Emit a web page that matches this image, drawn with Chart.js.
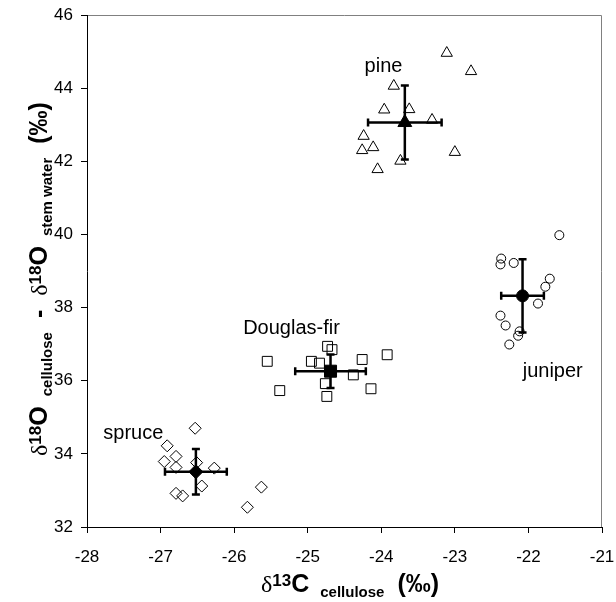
<!DOCTYPE html>
<html>
<head>
<meta charset="utf-8">
<script src="https://cdn.jsdelivr.net/npm/chart.js@4.4.1/dist/chart.umd.min.js"></script>
<style>
  body { margin: 0; background: #fff; }
  #wrap { width: 616px; height: 602px; }
</style>
</head>
<body>
<div id="wrap"><canvas id="chart" width="616" height="602"></canvas></div>
<script>
// individual trees, d13C (x) and d18O enrichment (y)
const pineX = [-23.11, -22.78, -23.83, -23.96, -23.62, -23.31, -24.24, -24.26, -24.11, -24.05, -23.74, -23.00];
const pineY = [44.96, 44.46, 44.06, 43.41, 43.42, 43.13, 42.69, 42.30, 42.38, 41.78, 42.01, 42.25];
const juniperX = [-21.58, -22.37, -22.38, -22.20, -21.71, -21.77, -21.87, -22.38, -22.31, -22.12, -22.14, -22.26];
const juniperY = [39.98, 39.34, 39.18, 39.22, 38.79, 38.57, 38.11, 37.78, 37.51, 37.35, 37.23, 36.99];
const firX = [-25.55, -25.38, -24.95, -24.84, -24.73, -24.67, -24.26, -23.92, -24.38, -24.76, -24.74, -24.14];
const firY = [36.53, 35.73, 36.53, 36.48, 36.94, 36.85, 36.58, 36.71, 36.16, 35.92, 35.57, 35.78];
const spruceX = [-26.53, -26.91, -26.79, -26.95, -26.79, -26.51, -26.27, -26.44, -26.79, -26.70, -25.63, -25.82];
const spruceY = [34.70, 34.22, 33.93, 33.79, 33.63, 33.76, 33.61, 33.12, 32.92, 32.85, 33.09, 32.54];

// species means and error bars (pine, juniper, Douglas-fir, spruce)
const species = ['pine', 'juniper', 'Douglas-fir', 'spruce'];
const meanX = [-23.68, -22.08, -24.69, -26.52];
const meanY = [43.06, 38.32, 36.26, 33.51];
const errX = [0.50, 0.29, 0.48, 0.42];
const errY = [1.01, 1.00, 0.46, 0.62];

// where the species names sit, in data units
const labelX = [-23.97, -21.67, -25.22, -27.37];
const labelY = [44.59, 36.25, 37.43, 34.56];

const xTicks = [-28, -27, -26, -25, -24, -23, -22, -21];
const yTicks = [32, 34, 36, 38, 40, 42, 44, 46];

const toPoints = (xs, ys) => xs.map((x, i) => ({ x: x, y: ys[i] }));

const SANS = "'Liberation Sans', Arial, sans-serif";
const SERIF = "'Liberation Serif', 'DejaVu Serif', serif";

// draws a row of text pieces, each with its own font and vertical shift
function drawRuns(ctx, runs) {
  const widthOf = r => {
    if (r.gap) return r.gap;
    ctx.font = r.font;
    return ctx.measureText(r.text).width;
  };
  let x = -runs.reduce((s, r) => s + widthOf(r), 0) / 2;
  runs.forEach(r => {
    if (!r.gap) {
      ctx.font = r.font;
      ctx.fillText(r.text, x, r.dy);
    }
    x += widthOf(r);
  });
}

const BIG = 'bold 25px ' + SANS;
const SUP = 'bold 17px ' + SANS;
const SUB = 'bold 15px ' + SANS;
const DELTA = '24px ' + SERIF;

const xTitle = [
  { text: 'δ', font: DELTA, dy: 0 },
  { text: '13', font: SUP, dy: -6 },
  { text: 'C', font: BIG, dy: 0 },
  { gap: 11 },
  { text: 'cellulose', font: SUB, dy: 5 },
  { gap: 13 },
  { text: '(‰)', font: BIG, dy: 0 }
];
const yTitle = [
  { text: 'δ', font: DELTA, dy: 0 },
  { text: '18', font: SUP, dy: -6 },
  { text: 'O', font: BIG, dy: 0 },
  { gap: 10 },
  { text: 'cellulose', font: SUB, dy: 5 },
  { gap: 14 },
  { text: '-', font: BIG, dy: 0 },
  { gap: 14 },
  { text: 'δ', font: DELTA, dy: 0 },
  { text: '18', font: SUP, dy: -6 },
  { text: 'O', font: BIG, dy: 0 },
  { gap: 10 },
  { text: 'stem water', font: SUB, dy: 5 },
  { gap: 14 },
  { text: '(‰)', font: BIG, dy: 0 }
];

const extras = {
  id: 'extras',
  beforeDraw(chart) {
    const { ctx, chartArea: a } = chart;
    ctx.save();
    ctx.strokeStyle = '#808080';
    ctx.lineWidth = 1;
    ctx.beginPath();
    ctx.moveTo(a.left, a.top + 0.5);
    ctx.lineTo(a.right - 0.5, a.top + 0.5);
    ctx.lineTo(a.right - 0.5, a.bottom);
    ctx.stroke();
    ctx.restore();
  },
  afterDatasetsDraw(chart) {
    const { ctx, scales: { x, y } } = chart;
    ctx.save();
    ctx.strokeStyle = '#000';
    ctx.lineWidth = 2.5;
    const cap = 4;
    meanX.forEach((mx, i) => {
      const px = x.getPixelForValue(mx);
      const py = y.getPixelForValue(meanY[i]);
      const x0 = x.getPixelForValue(mx - errX[i]);
      const x1 = x.getPixelForValue(mx + errX[i]);
      const y0 = y.getPixelForValue(meanY[i] + errY[i]);
      const y1 = y.getPixelForValue(meanY[i] - errY[i]);
      ctx.beginPath();
      ctx.moveTo(x0, py); ctx.lineTo(x1, py);
      ctx.moveTo(x0, py - cap); ctx.lineTo(x0, py + cap);
      ctx.moveTo(x1, py - cap); ctx.lineTo(x1, py + cap);
      ctx.moveTo(px, y0); ctx.lineTo(px, y1);
      ctx.moveTo(px - cap, y0); ctx.lineTo(px + cap, y0);
      ctx.moveTo(px - cap, y1); ctx.lineTo(px + cap, y1);
      ctx.stroke();
    });

    ctx.fillStyle = '#000';
    ctx.font = '20px ' + SANS;
    ctx.textAlign = 'center';
    ctx.textBaseline = 'middle';
    species.forEach((name, i) => {
      ctx.fillText(name, x.getPixelForValue(labelX[i]), y.getPixelForValue(labelY[i]));
    });
    ctx.restore();
  },
  afterDraw(chart) {
    const { ctx } = chart;
    ctx.save();
    ctx.fillStyle = '#000';
    ctx.textAlign = 'left';
    ctx.textBaseline = 'alphabetic';
    ctx.translate(350, 592);
    drawRuns(ctx, xTitle);
    ctx.restore();

    ctx.save();
    ctx.fillStyle = '#000';
    ctx.textAlign = 'left';
    ctx.textBaseline = 'alphabetic';
    ctx.translate(47, 279);
    ctx.rotate(-Math.PI / 2);
    drawRuns(ctx, yTitle);
    ctx.restore();
  }
};

const openStyle = { borderColor: '#000', backgroundColor: 'rgba(0,0,0,0)', borderWidth: 1 };

new Chart(document.getElementById('chart'), {
  type: 'scatter',
  data: {
    datasets: [
      { label: 'pine', data: toPoints(pineX, pineY), pointStyle: 'triangle', pointRadius: 6.5, ...openStyle },
      { label: 'juniper', data: toPoints(juniperX, juniperY), pointStyle: 'circle', pointRadius: 4.5, ...openStyle },
      { label: 'Douglas-fir', data: toPoints(firX, firY), pointStyle: 'rect', pointRadius: 7, ...openStyle },
      { label: 'spruce', data: toPoints(spruceX, spruceY), pointStyle: 'rectRot', pointRadius: 6, ...openStyle },
      {
        label: 'mean',
        data: toPoints(meanX, meanY),
        pointStyle: ['triangle', 'circle', 'rect', 'rectRot'],
        pointRadius: [8, 6, 8.5, 7],
        borderColor: '#000',
        backgroundColor: '#000',
        borderWidth: 1
      }
    ]
  },
  options: {
    responsive: false,
    animation: false,
    events: [],
    layout: { padding: { top: 15, right: 14, left: 0, bottom: 0 } },
    plugins: { legend: { display: false }, tooltip: { enabled: false } },
    scales: {
      x: {
        type: 'linear',
        min: -28,
        max: -21,
        afterBuildTicks: s => { s.ticks = xTicks.map(v => ({ value: v })); },
        afterFit: s => { s.height = 75; s.paddingLeft = 0; s.paddingRight = 0; },
        grid: { drawOnChartArea: false, drawTicks: true, tickLength: 6, color: '#000' },
        border: { color: '#000', width: 1 },
        ticks: { color: '#000', font: { family: SANS, size: 17 }, padding: 14, maxRotation: 0 }
      },
      y: {
        type: 'linear',
        min: 32,
        max: 46,
        afterBuildTicks: s => { s.ticks = yTicks.map(v => ({ value: v })); },
        afterFit: s => { s.width = 87; s.paddingTop = 0; s.paddingBottom = 0; },
        grid: { drawOnChartArea: false, drawTicks: true, tickLength: 6, color: '#000' },
        border: { color: '#000', width: 1 },
        ticks: { color: '#000', font: { family: SANS, size: 17 }, padding: 8 }
      }
    }
  },
  plugins: [extras]
});
</script>
</body>
</html>
